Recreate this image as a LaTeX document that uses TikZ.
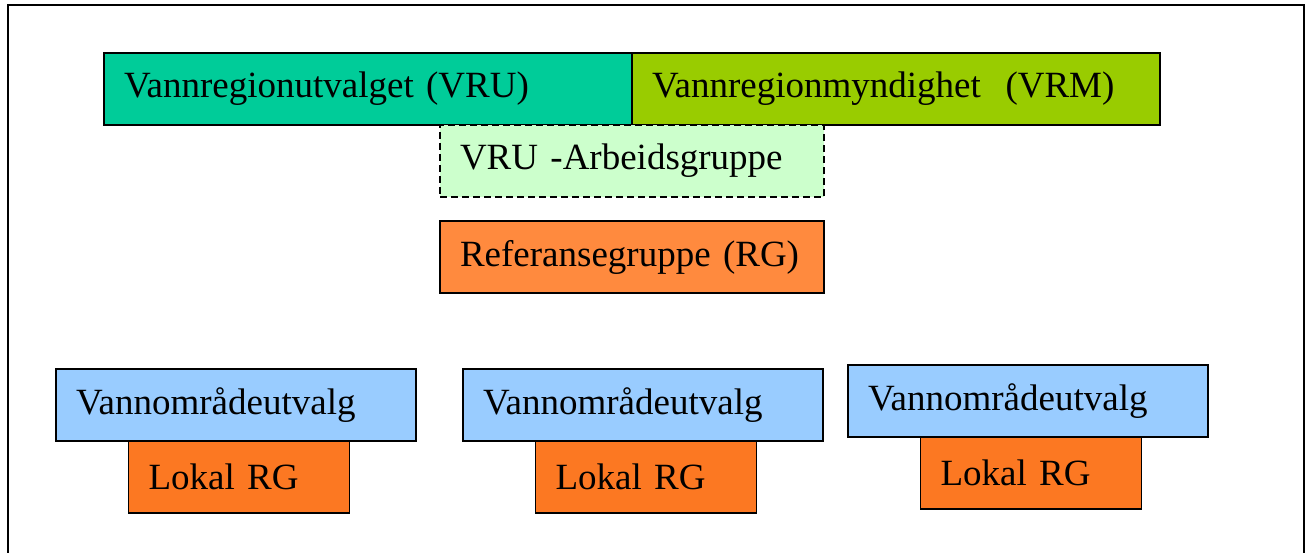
\documentclass[tikz,border=0pt]{standalone}
\usepackage{fontspec}
\setmainfont{Liberation Serif}
\usetikzlibrary{positioning}
\definecolor{vrucolor}{RGB}{0,204,153}
\definecolor{vrmcolor}{RGB}{153,204,0}
\definecolor{arbcolor}{RGB}{204,255,204}
\definecolor{rgcolor}{RGB}{255,138,62}
\definecolor{lokalcolor}{RGB}{252,120,34}
\definecolor{vocolor}{RGB}{153,204,255}

\begin{document}
\begin{tikzpicture}[x=1pt, y=-1pt, node distance=0pt, line width=1.5pt,
    box/.style = {draw, rectangle, minimum height=72pt, text width=#1, inner xsep=20pt,
      outer sep=0pt, align=left, anchor=north west, font=\fontsize{37}{44}\selectfont},
    lokal/.style = {box=181pt, fill=lokalcolor, anchor=north, xshift=3pt}]
    \useasboundingbox (0,0) rectangle (1311,553);
    \draw[line width=2pt] (8,5) rectangle (1304,580);
    \node[box=488pt, fill=vrucolor] (vru) at (104,53) {Vannregionutvalget (VRU)};
    \node[box=488pt, fill=vrmcolor] (vrm) [right=of vru] {Vannregionmyndighet~ (VRM)};
    \node[box=344pt, fill=arbcolor, dash pattern=on 7pt off 4pt] (arb) at (440,125) {VRU -Arbeidsgruppe};
    \node[box=344pt, fill=rgcolor] (rg) at (440,221) {Referansegruppe (RG)};
    \node[box=320pt, fill=vocolor] (vo1) at (56,369) {Vannområdeutvalg};
    \node[box=320pt, fill=vocolor] (vo2) at (463,369) {Vannområdeutvalg};
    \node[box=320pt, fill=vocolor] (vo3) at (848,365) {Vannområdeutvalg};
    \node[lokal] (lrg1) [below=of vo1] {Lokal RG};
    \node[lokal] (lrg2) [below=of vo2] {Lokal RG};
    \node[lokal] (lrg3) [below=of vo3] {Lokal RG};
\end{tikzpicture}
\end{document}
